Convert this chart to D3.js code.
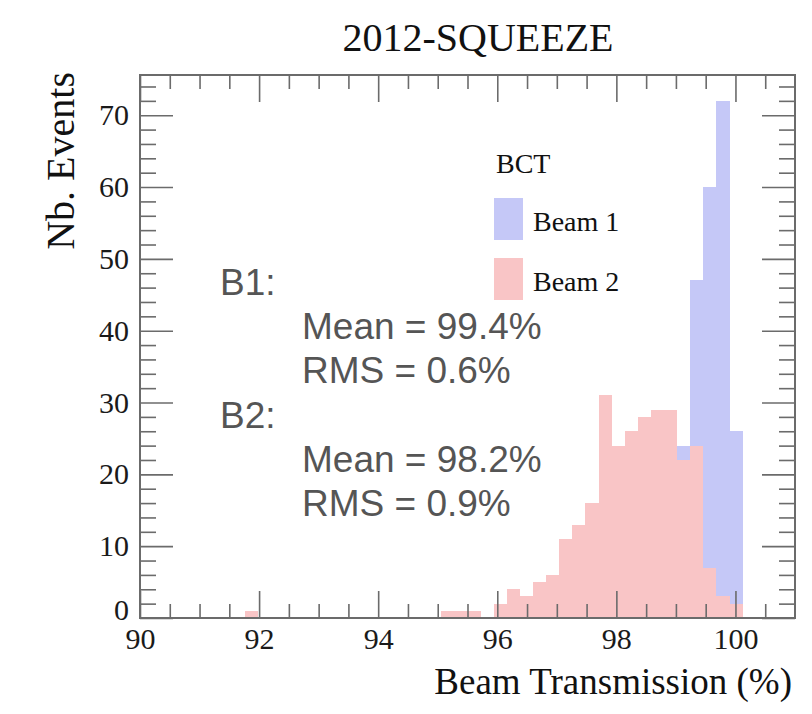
<!DOCTYPE html>
<html>
<head>
<meta charset="utf-8">
<script src="https://cdn.jsdelivr.net/npm/d3@7"></script>
<style>
  html, body { margin: 0; padding: 0; background: #ffffff; }
  svg { display: block; }
</style>
</head>
<body>
<svg id="chart" width="812" height="714"></svg>
<script>
// Histogram range: 50 bins between 90 % and 101 %
const histRange = [90, 101];
const binCount = 50;

// Entries per bin, Beam 1 (BCT)
const beam1Counts = [
  0, 0, 0, 0, 0, 0, 0, 0, 0, 0,
  0, 0, 0, 0, 0, 0, 0, 0, 0, 0,
  0, 0, 0, 0, 0, 0, 0, 0, 0, 0,
  0, 0, 0, 0, 0, 0, 0, 0, 0, 0,
  0, 24, 47, 60, 72, 26, 0, 0, 0, 0
];

// Entries per bin, Beam 2 (BCT)
const beam2Counts = [
  0, 0, 0, 0, 0, 0, 0, 0, 1, 0,
  0, 0, 0, 0, 0, 0, 0, 0, 0, 0,
  0, 0, 0, 1, 1, 1, 0, 2, 4, 3,
  5, 6, 11, 13, 16, 31, 24, 26, 28, 29,
  29, 22, 24, 7, 3, 2, 0, 0, 0, 0
];

const xMajorTicks = [90, 92, 94, 96, 98, 100];
const yMajorTicks = [0, 10, 20, 30, 40, 50, 60, 70];
const yTop = 75.6;

const titleText = "2012-SQUEEZE";
const xTitle = "Beam Transmission (%)";
const yTitle = "Nb. Events";
const legendHeader = "BCT";
const legendLabels = ["Beam 1", "Beam 2"];
const statLines = [
  { text: "B1:", indent: false },
  { text: "Mean = 99.4%", indent: true },
  { text: "RMS = 0.6%", indent: true },
  { text: "B2:", indent: false },
  { text: "Mean = 98.2%", indent: true },
  { text: "RMS = 0.9%", indent: true }
];

// ---- layout & style ----
const frame = { left: 140, top: 75, right: 795, bottom: 618 };
const colors = { beam1: "#c5c8f7", beam2: "#f9c5c6", axis: "#6b6b6b" };
const serif = "'Liberation Serif', 'Times New Roman', serif";
const sans = "'Liberation Sans', Arial, Helvetica, sans-serif";

const svg = d3.select("#chart");

const x = d3.scaleLinear().domain(histRange).range([frame.left, frame.right]);
const y = d3.scaleLinear().domain([0, yTop]).range([frame.bottom, frame.top]);

const binWidth = (histRange[1] - histRange[0]) / binCount;
const binLow = i => histRange[0] + i * binWidth;

function drawHist(counts, color) {
  const bins = counts.map((v, i) => ({ lo: binLow(i), hi: binLow(i + 1), v }))
    .filter(d => d.v > 0);
  svg.append("g")
    .attr("shape-rendering", "crispEdges")
    .selectAll("rect")
    .data(bins)
    .join("rect")
    .attr("x", d => x(d.lo))
    .attr("width", d => x(d.hi) - x(d.lo))
    .attr("y", d => y(d.v))
    .attr("height", d => y(0) - y(d.v))
    .attr("fill", color);
}

drawHist(beam1Counts, colors.beam1);
drawHist(beam2Counts, colors.beam2);

// ---- ticks (pointing into the frame on all four sides) ----
const xMinor = d3.range(histRange[0] + 0.5, histRange[1], 0.5).filter(v => !xMajorTicks.includes(v));
const yMinor = d3.range(2, yTop, 2).filter(v => v % 10 !== 0);

function styleAxis(g) {
  g.select(".domain").remove();
  g.selectAll(".tick line").attr("stroke", colors.axis).attr("stroke-width", 1.6);
}

// bottom
svg.append("g").attr("transform", `translate(0,${frame.bottom})`)
  .call(d3.axisBottom(x).tickValues(xMajorTicks).tickSize(-27).tickPadding(10).tickFormat(d3.format("d")))
  .call(styleAxis)
  .call(g => g.selectAll("text").attr("font-family", serif).attr("font-size", 30).attr("fill", "#1a1a1a"));
svg.append("g").attr("transform", `translate(0,${frame.bottom})`)
  .call(d3.axisBottom(x).tickValues(xMinor).tickSize(-14).tickFormat(""))
  .call(styleAxis);
// top
svg.append("g").attr("transform", `translate(0,${frame.top})`)
  .call(d3.axisTop(x).tickValues(xMajorTicks).tickSize(-27).tickFormat(""))
  .call(styleAxis);
svg.append("g").attr("transform", `translate(0,${frame.top})`)
  .call(d3.axisTop(x).tickValues(xMinor).tickSize(-14).tickFormat(""))
  .call(styleAxis);
// left
svg.append("g").attr("transform", `translate(${frame.left},0)`)
  .call(d3.axisLeft(y).tickValues(yMajorTicks).tickSize(-33).tickPadding(11).tickFormat(d3.format("d")))
  .call(styleAxis)
  .call(g => g.selectAll("text").attr("font-family", serif).attr("font-size", 30).attr("fill", "#1a1a1a"))
  // the zero label sits a little above the corner so it clears the x labels
  .call(g => g.selectAll(".tick").filter(d => d === 0).select("text").attr("dy", "0.05em"));
svg.append("g").attr("transform", `translate(${frame.left},0)`)
  .call(d3.axisLeft(y).tickValues(yMinor).tickSize(-16).tickFormat(""))
  .call(styleAxis);
// right
svg.append("g").attr("transform", `translate(${frame.right},0)`)
  .call(d3.axisRight(y).tickValues(yMajorTicks).tickSize(-33).tickFormat(""))
  .call(styleAxis);
svg.append("g").attr("transform", `translate(${frame.right},0)`)
  .call(d3.axisRight(y).tickValues(yMinor).tickSize(-16).tickFormat(""))
  .call(styleAxis);

// frame
svg.append("rect")
  .attr("x", frame.left).attr("y", frame.top)
  .attr("width", frame.right - frame.left).attr("height", frame.bottom - frame.top)
  .attr("fill", "none").attr("stroke", colors.axis).attr("stroke-width", 2);

// ---- titles ----
svg.append("text")
  .attr("x", 478).attr("y", 51)
  .attr("text-anchor", "middle")
  .attr("font-family", serif).attr("font-size", 40).attr("fill", "#111")
  .text(titleText);

svg.append("text")
  .attr("x", 792).attr("y", 694)
  .attr("text-anchor", "end")
  .attr("font-family", serif).attr("font-size", 37).attr("fill", "#111")
  .text(xTitle);

svg.append("text")
  .attr("transform", "translate(74,72) rotate(-90)")
  .attr("text-anchor", "end")
  .attr("font-family", serif).attr("font-size", 40).attr("fill", "#111")
  .text(yTitle);

// ---- legend ----
const legend = svg.append("g");
legend.append("text")
  .attr("x", 496).attr("y", 173)
  .attr("font-family", serif).attr("font-size", 28).attr("fill", "#111")
  .text(legendHeader);
const legendColors = [colors.beam1, colors.beam2];
legendLabels.forEach((lab, i) => {
  const top = 198 + i * 60;
  legend.append("rect")
    .attr("x", 494).attr("y", top).attr("width", 29).attr("height", 42)
    .attr("fill", legendColors[i]);
  legend.append("text")
    .attr("x", 533).attr("y", top + 33)
    .attr("font-family", serif).attr("font-size", 28).attr("fill", "#111")
    .text(lab);
});

// ---- statistics box text ----
svg.append("g").selectAll("text")
  .data(statLines)
  .join("text")
  .attr("x", d => d.indent ? 302 : 220)
  .attr("y", (d, i) => 295 + i * 44.2)
  .attr("font-family", sans).attr("font-size", 37).attr("fill", "#555")
  .text(d => d.text);
</script>
</body>
</html>
